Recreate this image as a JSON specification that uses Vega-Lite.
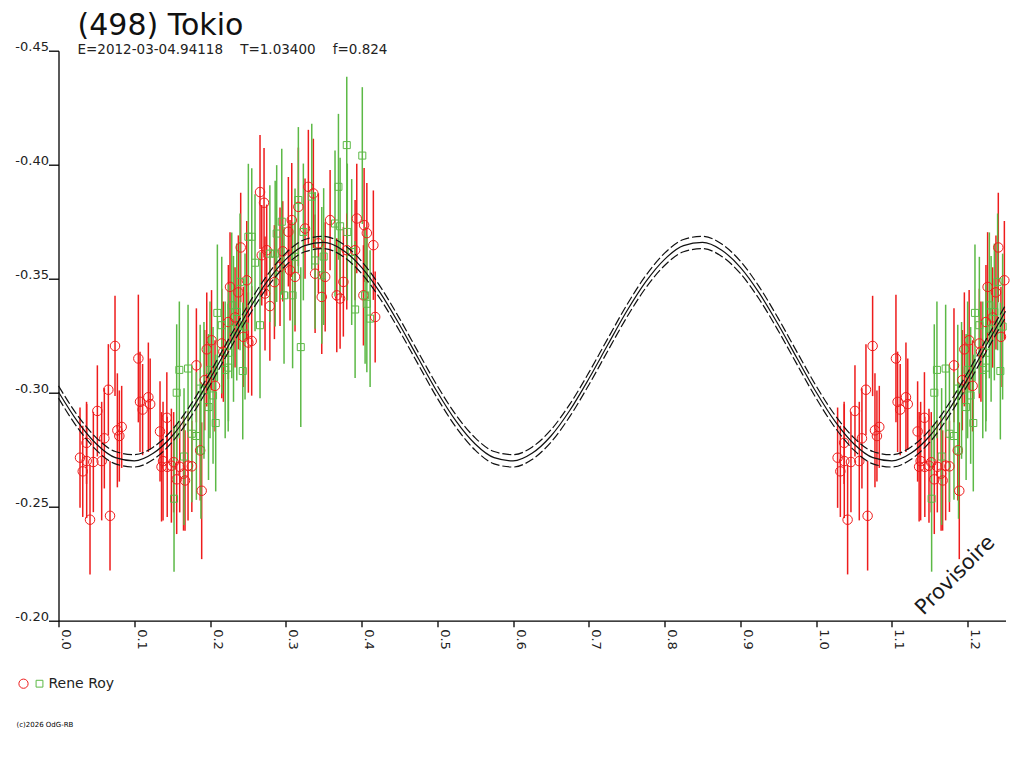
{
  "$schema": "https://vega.github.io/schema/vega-lite/v6.json",
  "description": "Lightcurve of (498) Tokio, folded on T=1.03400",
  "autosize": "none",
  "width": 947,
  "height": 570,
  "padding": {"left": 58.5, "top": 50.7, "right": 18.5, "bottom": 147.3},
  "background": "white",
  "title": {
    "text": "(498) Tokio",
    "subtitle": "E=2012-03-04.94118\u00a0\u00a0\u00a0\u00a0T=1.03400\u00a0\u00a0\u00a0\u00a0f=0.824",
    "anchor": "start",
    "frame": "group",
    "dx": 19,
    "offset": -16,
    "font": "DejaVu Sans",
    "fontSize": 30,
    "fontWeight": "normal",
    "color": "#111111",
    "subtitleFont": "DejaVu Sans",
    "subtitleFontSize": 13.5,
    "subtitleColor": "#222222",
    "subtitlePadding": 2
  },
  "datasets": {
    "obs": [
      {"p": 0.0284, "v": -0.2715, "e": 0.022, "o": "a"},
      {"p": 0.032, "v": -0.2655, "e": 0.020, "o": "a"},
      {"p": 0.0372, "v": -0.270, "e": 0.025, "o": "a"},
      {"p": 0.037, "v": -0.278, "e": 0.018, "o": "a"},
      {"p": 0.0416, "v": -0.2443, "e": 0.024, "o": "a"},
      {"p": 0.046, "v": -0.2696, "e": 0.022, "o": "a"},
      {"p": 0.0513, "v": -0.292, "e": 0.020, "o": "a"},
      {"p": 0.057, "v": -0.270, "e": 0.026, "o": "a"},
      {"p": 0.0605, "v": -0.280, "e": 0.022, "o": "a"},
      {"p": 0.0658, "v": -0.3013, "e": 0.020, "o": "a"},
      {"p": 0.068, "v": -0.246, "e": 0.024, "o": "a"},
      {"p": 0.0746, "v": -0.3205, "e": 0.022, "o": "a"},
      {"p": 0.0777, "v": -0.2835, "e": 0.025, "o": "a"},
      {"p": 0.0803, "v": -0.281, "e": 0.020, "o": "a"},
      {"p": 0.0834, "v": -0.285, "e": 0.018, "o": "a"},
      {"p": 0.1054, "v": -0.315, "e": 0.028, "o": "a"},
      {"p": 0.1076, "v": -0.296, "e": 0.022, "o": "a"},
      {"p": 0.111, "v": -0.2926, "e": 0.020, "o": "a"},
      {"p": 0.1186, "v": -0.298, "e": 0.024, "o": "a"},
      {"p": 0.121, "v": -0.295, "e": 0.020, "o": "a"},
      {"p": 0.134, "v": -0.283, "e": 0.022, "o": "a"},
      {"p": 0.136, "v": -0.2675, "e": 0.024, "o": "a"},
      {"p": 0.138, "v": -0.270, "e": 0.026, "o": "a"},
      {"p": 0.143, "v": -0.289, "e": 0.020, "o": "a"},
      {"p": 0.1435, "v": -0.2675, "e": 0.022, "o": "a"},
      {"p": 0.149, "v": -0.268, "e": 0.025, "o": "a"},
      {"p": 0.152, "v": -0.2695, "e": 0.022, "o": "a"},
      {"p": 0.156, "v": -0.262, "e": 0.024, "o": "a"},
      {"p": 0.160, "v": -0.2675, "e": 0.020, "o": "a"},
      {"p": 0.165, "v": -0.2645, "e": 0.025, "o": "a"},
      {"p": 0.167, "v": -0.2615, "e": 0.022, "o": "a"},
      {"p": 0.171, "v": -0.268, "e": 0.024, "o": "a"},
      {"p": 0.176, "v": -0.2677, "e": 0.020, "o": "a"},
      {"p": 0.182, "v": -0.312, "e": 0.025, "o": "a"},
      {"p": 0.187, "v": -0.2747, "e": 0.022, "o": "a"},
      {"p": 0.189, "v": -0.257, "e": 0.030, "o": "a"},
      {"p": 0.193, "v": -0.3055, "e": 0.022, "o": "a"},
      {"p": 0.1957, "v": -0.319, "e": 0.025, "o": "a"},
      {"p": 0.202, "v": -0.323, "e": 0.022, "o": "a"},
      {"p": 0.2066, "v": -0.303, "e": 0.020, "o": "a"},
      {"p": 0.2155, "v": -0.3216, "e": 0.024, "o": "a"},
      {"p": 0.2176, "v": -0.318, "e": 0.022, "o": "a"},
      {"p": 0.2242, "v": -0.331, "e": 0.025, "o": "a"},
      {"p": 0.2264, "v": -0.3464, "e": 0.024, "o": "a"},
      {"p": 0.233, "v": -0.333, "e": 0.022, "o": "a"},
      {"p": 0.2374, "v": -0.344, "e": 0.025, "o": "a"},
      {"p": 0.2405, "v": -0.3637, "e": 0.024, "o": "a"},
      {"p": 0.244, "v": -0.3245, "e": 0.022, "o": "a"},
      {"p": 0.2485, "v": -0.3493, "e": 0.026, "o": "a"},
      {"p": 0.2506, "v": -0.322, "e": 0.022, "o": "a"},
      {"p": 0.255, "v": -0.3227, "e": 0.024, "o": "a"},
      {"p": 0.266, "v": -0.388, "e": 0.025, "o": "a"},
      {"p": 0.2683, "v": -0.3603, "e": 0.022, "o": "a"},
      {"p": 0.2713, "v": -0.3833, "e": 0.024, "o": "a"},
      {"p": 0.2726, "v": -0.3435, "e": 0.025, "o": "a"},
      {"p": 0.2748, "v": -0.3625, "e": 0.020, "o": "a"},
      {"p": 0.279, "v": -0.338, "e": 0.024, "o": "a"},
      {"p": 0.285, "v": -0.3485, "e": 0.025, "o": "a"},
      {"p": 0.2924, "v": -0.3552, "e": 0.026, "o": "a"},
      {"p": 0.296, "v": -0.362, "e": 0.022, "o": "a"},
      {"p": 0.3034, "v": -0.3706, "e": 0.024, "o": "a"},
      {"p": 0.3056, "v": -0.3537, "e": 0.022, "o": "a"},
      {"p": 0.3079, "v": -0.3757, "e": 0.025, "o": "a"},
      {"p": 0.3122, "v": -0.3508, "e": 0.024, "o": "a"},
      {"p": 0.3166, "v": -0.3815, "e": 0.026, "o": "a"},
      {"p": 0.3254, "v": -0.372, "e": 0.022, "o": "a"},
      {"p": 0.3298, "v": -0.3903, "e": 0.025, "o": "a"},
      {"p": 0.3364, "v": -0.3874, "e": 0.024, "o": "a"},
      {"p": 0.3387, "v": -0.3522, "e": 0.026, "o": "a"},
      {"p": 0.343, "v": -0.3655, "e": 0.022, "o": "a"},
      {"p": 0.3475, "v": -0.342, "e": 0.025, "o": "a"},
      {"p": 0.352, "v": -0.3508, "e": 0.024, "o": "a"},
      {"p": 0.3585, "v": -0.3757, "e": 0.022, "o": "a"},
      {"p": 0.3673, "v": -0.3427, "e": 0.025, "o": "a"},
      {"p": 0.3717, "v": -0.3413, "e": 0.022, "o": "a"},
      {"p": 0.376, "v": -0.3486, "e": 0.024, "o": "a"},
      {"p": 0.3805, "v": -0.3625, "e": 0.026, "o": "a"},
      {"p": 0.3915, "v": -0.3625, "e": 0.022, "o": "a"},
      {"p": 0.3937, "v": -0.3764, "e": 0.024, "o": "a"},
      {"p": 0.4025, "v": -0.3427, "e": 0.022, "o": "a"},
      {"p": 0.4034, "v": -0.3735, "e": 0.025, "o": "a"},
      {"p": 0.407, "v": -0.370, "e": 0.022, "o": "a"},
      {"p": 0.4156, "v": -0.3647, "e": 0.024, "o": "a"},
      {"p": 0.418, "v": -0.3332, "e": 0.020, "o": "a"},
      {"p": 1.0284, "v": -0.2715, "e": 0.022, "o": "a"},
      {"p": 1.032, "v": -0.2655, "e": 0.020, "o": "a"},
      {"p": 1.0372, "v": -0.270, "e": 0.025, "o": "a"},
      {"p": 1.037, "v": -0.278, "e": 0.018, "o": "a"},
      {"p": 1.0416, "v": -0.2443, "e": 0.024, "o": "a"},
      {"p": 1.046, "v": -0.2696, "e": 0.022, "o": "a"},
      {"p": 1.0513, "v": -0.292, "e": 0.020, "o": "a"},
      {"p": 1.057, "v": -0.270, "e": 0.026, "o": "a"},
      {"p": 1.0605, "v": -0.280, "e": 0.022, "o": "a"},
      {"p": 1.0658, "v": -0.3013, "e": 0.020, "o": "a"},
      {"p": 1.068, "v": -0.246, "e": 0.024, "o": "a"},
      {"p": 1.0746, "v": -0.3205, "e": 0.022, "o": "a"},
      {"p": 1.0777, "v": -0.2835, "e": 0.025, "o": "a"},
      {"p": 1.0803, "v": -0.281, "e": 0.020, "o": "a"},
      {"p": 1.0834, "v": -0.285, "e": 0.018, "o": "a"},
      {"p": 1.1054, "v": -0.315, "e": 0.028, "o": "a"},
      {"p": 1.1076, "v": -0.296, "e": 0.022, "o": "a"},
      {"p": 1.111, "v": -0.2926, "e": 0.020, "o": "a"},
      {"p": 1.1186, "v": -0.298, "e": 0.024, "o": "a"},
      {"p": 1.121, "v": -0.295, "e": 0.020, "o": "a"},
      {"p": 1.134, "v": -0.283, "e": 0.022, "o": "a"},
      {"p": 1.136, "v": -0.2675, "e": 0.024, "o": "a"},
      {"p": 1.138, "v": -0.270, "e": 0.026, "o": "a"},
      {"p": 1.143, "v": -0.289, "e": 0.020, "o": "a"},
      {"p": 1.1435, "v": -0.2675, "e": 0.022, "o": "a"},
      {"p": 1.149, "v": -0.268, "e": 0.025, "o": "a"},
      {"p": 1.152, "v": -0.2695, "e": 0.022, "o": "a"},
      {"p": 1.156, "v": -0.262, "e": 0.024, "o": "a"},
      {"p": 1.160, "v": -0.2675, "e": 0.020, "o": "a"},
      {"p": 1.165, "v": -0.2645, "e": 0.025, "o": "a"},
      {"p": 1.167, "v": -0.2615, "e": 0.022, "o": "a"},
      {"p": 1.171, "v": -0.268, "e": 0.024, "o": "a"},
      {"p": 1.176, "v": -0.2677, "e": 0.020, "o": "a"},
      {"p": 1.182, "v": -0.312, "e": 0.025, "o": "a"},
      {"p": 1.187, "v": -0.2747, "e": 0.022, "o": "a"},
      {"p": 1.189, "v": -0.257, "e": 0.030, "o": "a"},
      {"p": 1.193, "v": -0.3055, "e": 0.022, "o": "a"},
      {"p": 1.1957, "v": -0.319, "e": 0.025, "o": "a"},
      {"p": 1.202, "v": -0.323, "e": 0.022, "o": "a"},
      {"p": 1.2066, "v": -0.303, "e": 0.020, "o": "a"},
      {"p": 1.2155, "v": -0.3216, "e": 0.024, "o": "a"},
      {"p": 1.2176, "v": -0.318, "e": 0.022, "o": "a"},
      {"p": 1.2242, "v": -0.331, "e": 0.025, "o": "a"},
      {"p": 1.2264, "v": -0.3464, "e": 0.024, "o": "a"},
      {"p": 1.233, "v": -0.333, "e": 0.022, "o": "a"},
      {"p": 1.2374, "v": -0.344, "e": 0.025, "o": "a"},
      {"p": 1.2405, "v": -0.3637, "e": 0.024, "o": "a"},
      {"p": 1.244, "v": -0.3245, "e": 0.022, "o": "a"},
      {"p": 1.2485, "v": -0.3493, "e": 0.026, "o": "a"},
      {"p": 0.1525, "v": -0.2535, "e": 0.032, "o": "b"},
      {"p": 0.1657, "v": -0.272, "e": 0.030, "o": "b"},
      {"p": 0.1595, "v": -0.310, "e": 0.030, "o": "b"},
      {"p": 0.171, "v": -0.3106, "e": 0.028, "o": "b"},
      {"p": 0.156, "v": -0.300, "e": 0.030, "o": "b"},
      {"p": 0.176, "v": -0.282, "e": 0.030, "o": "b"},
      {"p": 0.182, "v": -0.281, "e": 0.028, "o": "b"},
      {"p": 0.188, "v": -0.2747, "e": 0.030, "o": "b"},
      {"p": 0.198, "v": -0.2937, "e": 0.032, "o": "b"},
      {"p": 0.2075, "v": -0.2867, "e": 0.030, "o": "b"},
      {"p": 0.204, "v": -0.2988, "e": 0.030, "o": "b"},
      {"p": 0.187, "v": -0.3018, "e": 0.028, "o": "b"},
      {"p": 0.192, "v": -0.301, "e": 0.030, "o": "b"},
      {"p": 0.220, "v": -0.310, "e": 0.030, "o": "b"},
      {"p": 0.224, "v": -0.311, "e": 0.028, "o": "b"},
      {"p": 0.2155, "v": -0.3296, "e": 0.030, "o": "b"},
      {"p": 0.231, "v": -0.328, "e": 0.032, "o": "b"},
      {"p": 0.200, "v": -0.310, "e": 0.030, "o": "b"},
      {"p": 0.2097, "v": -0.335, "e": 0.030, "o": "b"},
      {"p": 0.2287, "v": -0.3383, "e": 0.032, "o": "b"},
      {"p": 0.2353, "v": -0.3354, "e": 0.030, "o": "b"},
      {"p": 0.2432, "v": -0.3095, "e": 0.030, "o": "b"},
      {"p": 0.2462, "v": -0.329, "e": 0.032, "o": "b"},
      {"p": 0.2243, "v": -0.3175, "e": 0.030, "o": "b"},
      {"p": 0.2396, "v": -0.3486, "e": 0.030, "o": "b"},
      {"p": 0.2594, "v": -0.357, "e": 0.030, "o": "b"},
      {"p": 0.2506, "v": -0.3684, "e": 0.032, "o": "b"},
      {"p": 0.2551, "v": -0.3684, "e": 0.030, "o": "b"},
      {"p": 0.266, "v": -0.3296, "e": 0.032, "o": "b"},
      {"p": 0.279, "v": -0.361, "e": 0.030, "o": "b"},
      {"p": 0.286, "v": -0.361, "e": 0.032, "o": "b"},
      {"p": 0.288, "v": -0.3698, "e": 0.030, "o": "b"},
      {"p": 0.2947, "v": -0.375, "e": 0.032, "o": "b"},
      {"p": 0.2977, "v": -0.3427, "e": 0.030, "o": "b"},
      {"p": 0.309, "v": -0.3427, "e": 0.032, "o": "b"},
      {"p": 0.3166, "v": -0.3845, "e": 0.032, "o": "b"},
      {"p": 0.3198, "v": -0.320, "e": 0.035, "o": "b"},
      {"p": 0.3232, "v": -0.3705, "e": 0.030, "o": "b"},
      {"p": 0.3343, "v": -0.386, "e": 0.032, "o": "b"},
      {"p": 0.3387, "v": -0.358, "e": 0.030, "o": "b"},
      {"p": 0.3475, "v": -0.3515, "e": 0.030, "o": "b"},
      {"p": 0.350, "v": -0.3597, "e": 0.030, "o": "b"},
      {"p": 0.365, "v": -0.3742, "e": 0.032, "o": "b"},
      {"p": 0.3695, "v": -0.3903, "e": 0.032, "o": "b"},
      {"p": 0.3717, "v": -0.373, "e": 0.030, "o": "b"},
      {"p": 0.3805, "v": -0.4086, "e": 0.030, "o": "b"},
      {"p": 0.3812, "v": -0.3705, "e": 0.030, "o": "b"},
      {"p": 0.387, "v": -0.3617, "e": 0.032, "o": "b"},
      {"p": 0.3915, "v": -0.3365, "e": 0.030, "o": "b"},
      {"p": 0.401, "v": -0.404, "e": 0.030, "o": "b"},
      {"p": 0.4047, "v": -0.3427, "e": 0.030, "o": "b"},
      {"p": 0.407, "v": -0.339, "e": 0.030, "o": "b"},
      {"p": 0.4113, "v": -0.3325, "e": 0.030, "o": "b"},
      {"p": 0.3122, "v": -0.3596, "e": 0.030, "o": "b"},
      {"p": 1.1525, "v": -0.2535, "e": 0.032, "o": "b"},
      {"p": 1.1657, "v": -0.272, "e": 0.030, "o": "b"},
      {"p": 1.1595, "v": -0.310, "e": 0.030, "o": "b"},
      {"p": 1.171, "v": -0.3106, "e": 0.028, "o": "b"},
      {"p": 1.156, "v": -0.300, "e": 0.030, "o": "b"},
      {"p": 1.176, "v": -0.282, "e": 0.030, "o": "b"},
      {"p": 1.182, "v": -0.281, "e": 0.028, "o": "b"},
      {"p": 1.188, "v": -0.2747, "e": 0.030, "o": "b"},
      {"p": 1.198, "v": -0.2937, "e": 0.032, "o": "b"},
      {"p": 1.2075, "v": -0.2867, "e": 0.030, "o": "b"},
      {"p": 1.204, "v": -0.2988, "e": 0.030, "o": "b"},
      {"p": 1.187, "v": -0.3018, "e": 0.028, "o": "b"},
      {"p": 1.192, "v": -0.301, "e": 0.030, "o": "b"},
      {"p": 1.220, "v": -0.310, "e": 0.030, "o": "b"},
      {"p": 1.224, "v": -0.311, "e": 0.028, "o": "b"},
      {"p": 1.2155, "v": -0.3296, "e": 0.030, "o": "b"},
      {"p": 1.231, "v": -0.328, "e": 0.032, "o": "b"},
      {"p": 1.200, "v": -0.310, "e": 0.030, "o": "b"},
      {"p": 1.2097, "v": -0.335, "e": 0.030, "o": "b"},
      {"p": 1.2287, "v": -0.3383, "e": 0.032, "o": "b"},
      {"p": 1.2353, "v": -0.3354, "e": 0.030, "o": "b"},
      {"p": 1.2432, "v": -0.3095, "e": 0.030, "o": "b"},
      {"p": 1.2462, "v": -0.329, "e": 0.032, "o": "b"},
      {"p": 1.2243, "v": -0.3175, "e": 0.030, "o": "b"},
      {"p": 1.2396, "v": -0.3486, "e": 0.030, "o": "b"}
    ],
    "fit": [
      {"p": 0.0, "f": -0.3003, "lo": -0.3030, "hi": -0.2976},
      {"p": 0.025, "f": -0.2874, "lo": -0.2901, "hi": -0.2847},
      {"p": 0.05, "f": -0.2775, "lo": -0.2802, "hi": -0.2748},
      {"p": 0.075, "f": -0.2715, "lo": -0.2742, "hi": -0.2688},
      {"p": 0.1, "f": -0.2701, "lo": -0.2728, "hi": -0.2674},
      {"p": 0.125, "f": -0.2734, "lo": -0.2761, "hi": -0.2707},
      {"p": 0.15, "f": -0.2810, "lo": -0.2837, "hi": -0.2783},
      {"p": 0.175, "f": -0.2923, "lo": -0.2950, "hi": -0.2896},
      {"p": 0.2, "f": -0.3061, "lo": -0.3088, "hi": -0.3034},
      {"p": 0.225, "f": -0.3210, "lo": -0.3237, "hi": -0.3183},
      {"p": 0.25, "f": -0.3357, "lo": -0.3384, "hi": -0.3330},
      {"p": 0.275, "f": -0.3486, "lo": -0.3513, "hi": -0.3459},
      {"p": 0.3, "f": -0.3585, "lo": -0.3612, "hi": -0.3558},
      {"p": 0.325, "f": -0.3645, "lo": -0.3672, "hi": -0.3618},
      {"p": 0.35, "f": -0.3659, "lo": -0.3686, "hi": -0.3632},
      {"p": 0.375, "f": -0.3626, "lo": -0.3653, "hi": -0.3599},
      {"p": 0.4, "f": -0.3550, "lo": -0.3577, "hi": -0.3523},
      {"p": 0.425, "f": -0.3437, "lo": -0.3464, "hi": -0.3410},
      {"p": 0.45, "f": -0.3299, "lo": -0.3326, "hi": -0.3272},
      {"p": 0.475, "f": -0.3150, "lo": -0.3177, "hi": -0.3123},
      {"p": 0.5, "f": -0.3003, "lo": -0.3030, "hi": -0.2976},
      {"p": 0.525, "f": -0.2874, "lo": -0.2901, "hi": -0.2847},
      {"p": 0.55, "f": -0.2775, "lo": -0.2802, "hi": -0.2748},
      {"p": 0.575, "f": -0.2715, "lo": -0.2742, "hi": -0.2688},
      {"p": 0.6, "f": -0.2701, "lo": -0.2728, "hi": -0.2674},
      {"p": 0.625, "f": -0.2734, "lo": -0.2761, "hi": -0.2707},
      {"p": 0.65, "f": -0.2810, "lo": -0.2837, "hi": -0.2783},
      {"p": 0.675, "f": -0.2923, "lo": -0.2950, "hi": -0.2896},
      {"p": 0.7, "f": -0.3061, "lo": -0.3088, "hi": -0.3034},
      {"p": 0.725, "f": -0.3210, "lo": -0.3237, "hi": -0.3183},
      {"p": 0.75, "f": -0.3357, "lo": -0.3384, "hi": -0.3330},
      {"p": 0.775, "f": -0.3486, "lo": -0.3513, "hi": -0.3459},
      {"p": 0.8, "f": -0.3585, "lo": -0.3612, "hi": -0.3558},
      {"p": 0.825, "f": -0.3645, "lo": -0.3672, "hi": -0.3618},
      {"p": 0.85, "f": -0.3659, "lo": -0.3686, "hi": -0.3632},
      {"p": 0.875, "f": -0.3626, "lo": -0.3653, "hi": -0.3599},
      {"p": 0.9, "f": -0.3550, "lo": -0.3577, "hi": -0.3523},
      {"p": 0.925, "f": -0.3437, "lo": -0.3464, "hi": -0.3410},
      {"p": 0.95, "f": -0.3299, "lo": -0.3326, "hi": -0.3272},
      {"p": 0.975, "f": -0.3150, "lo": -0.3177, "hi": -0.3123},
      {"p": 1.0, "f": -0.3003, "lo": -0.3030, "hi": -0.2976},
      {"p": 1.025, "f": -0.2874, "lo": -0.2901, "hi": -0.2847},
      {"p": 1.05, "f": -0.2775, "lo": -0.2802, "hi": -0.2748},
      {"p": 1.075, "f": -0.2715, "lo": -0.2742, "hi": -0.2688},
      {"p": 1.1, "f": -0.2701, "lo": -0.2728, "hi": -0.2674},
      {"p": 1.125, "f": -0.2734, "lo": -0.2761, "hi": -0.2707},
      {"p": 1.15, "f": -0.2810, "lo": -0.2837, "hi": -0.2783},
      {"p": 1.175, "f": -0.2923, "lo": -0.2950, "hi": -0.2896},
      {"p": 1.2, "f": -0.3061, "lo": -0.3088, "hi": -0.3034},
      {"p": 1.225, "f": -0.3210, "lo": -0.3237, "hi": -0.3183},
      {"p": 1.25, "f": -0.3357, "lo": -0.3384, "hi": -0.3330}
    ]
  },
  "layer": [
    {
      "data": {"name": "obs"},
      "mark": {"type": "errorbar", "thickness": 1.5},
      "encoding": {
        "x": {
          "field": "p",
          "type": "quantitative",
          "scale": {"domain": [0, 1.25], "nice": false, "zero": false},
          "axis": {
            "title": null,
            "values": [0, 0.05, 0.1, 0.15, 0.2, 0.25, 0.3, 0.35, 0.4, 0.45, 0.5, 0.55, 0.6, 0.65, 0.7, 0.75, 0.8, 0.85, 0.9, 0.95, 1.0, 1.05, 1.1, 1.15, 1.2, 1.25],
            "labelExpr": "round(datum.value * 100) % 10 == 0 ? format(datum.value, '.1f') : ''",
            "labelAngle": 90,
            "labelAlign": "left",
            "labelBaseline": "bottom",
            "labelPadding": 2,
            "tickSize": 6
          }
        },
        "y": {
          "field": "v",
          "type": "quantitative",
          "scale": {"domain": [-0.45, -0.2], "reverse": true, "nice": false, "zero": false},
          "axis": {
            "title": null,
            "values": [-0.45, -0.4, -0.35, -0.3, -0.25, -0.2],
            "labelExpr": "'-' + format(-datum.value, '.2f')",
            "tickSize": 10,
            "labelPadding": 0,
            "labelAlign": "right",
            "labelBaseline": "alphabetic"
          }
        },
        "yError": {"field": "e"},
        "color": {
          "field": "o",
          "type": "nominal",
          "scale": {"domain": ["a", "b"], "range": ["#ee1c1c", "#5cb946"]},
          "legend": {"title": "(c)2026 OdG-RB", "labelExpr": "datum.value == 'b' ? 'Rene Roy' : ''"}
        }
      }
    },
    {
      "data": {"name": "obs"},
      "mark": {"type": "point", "filled": false, "strokeWidth": 1, "opacity": 1, "size": 90},
      "encoding": {
        "x": {"field": "p", "type": "quantitative"},
        "y": {"field": "v", "type": "quantitative"},
        "color": {
          "field": "o",
          "type": "nominal",
          "legend": {"title": "(c)2026 OdG-RB", "labelExpr": "datum.value == 'b' ? 'Rene Roy' : ''"}
        },
        "shape": {
          "field": "o",
          "type": "nominal",
          "scale": {"domain": ["a", "b"], "range": ["circle", "M-0.74,-0.74H0.74V0.74H-0.74Z"]},
          "legend": {"title": "(c)2026 OdG-RB", "labelExpr": "datum.value == 'b' ? 'Rene Roy' : ''"}
        }
      }
    },
    {
      "data": {"name": "fit"},
      "mark": {"type": "line", "color": "#111111", "strokeWidth": 1.2, "interpolate": "monotone"},
      "encoding": {
        "x": {"field": "p", "type": "quantitative"},
        "y": {"field": "f", "type": "quantitative"}
      }
    },
    {
      "data": {"name": "fit"},
      "mark": {"type": "line", "color": "#111111", "strokeWidth": 1.2, "strokeDash": [9, 3], "interpolate": "monotone"},
      "encoding": {
        "x": {"field": "p", "type": "quantitative"},
        "y": {"field": "lo", "type": "quantitative"}
      }
    },
    {
      "data": {"name": "fit"},
      "mark": {"type": "line", "color": "#111111", "strokeWidth": 1.2, "strokeDash": [9, 3], "interpolate": "monotone"},
      "encoding": {
        "x": {"field": "p", "type": "quantitative"},
        "y": {"field": "hi", "type": "quantitative"}
      }
    },
    {
      "data": {"values": [{"k": 1}]},
      "mark": {"type": "text", "text": "Provisoire", "angle": -45, "align": "center", "baseline": "middle", "font": "DejaVu Sans", "fontSize": 21, "fill": "#1a1a1a"},
      "encoding": {
        "x": {"datum": 1.184},
        "y": {"datum": -0.2198}
      }
    }
  ],
  "config": {
    "view": {"stroke": null},
    "legend": {
      "orient": "none",
      "legendX": -42,
      "legendY": 626,
      "direction": "horizontal",
      "titleOrient": "bottom",
      "titleAnchor": "start",
      "titleFont": "DejaVu Sans",
      "titleFontSize": 7,
      "titleFontWeight": "normal",
      "titleColor": "#000000",
      "titlePadding": 30,
      "labelFont": "DejaVu Sans",
      "labelFontSize": 14,
      "labelColor": "#222222",
      "labelOffset": 2,
      "columnPadding": -5,
      "symbolSize": 85,
      "symbolStrokeWidth": 1
    },
    "axis": {
      "grid": false,
      "domainColor": "#000000",
      "domainWidth": 1.3,
      "tickColor": "#000000",
      "tickWidth": 1.3,
      "labelColor": "#222222",
      "labelFont": "DejaVu Sans",
      "labelFontSize": 13,
      "labelOverlap": false,
      "labelFlush": false,
      "labelBound": false
    }
  }
}
